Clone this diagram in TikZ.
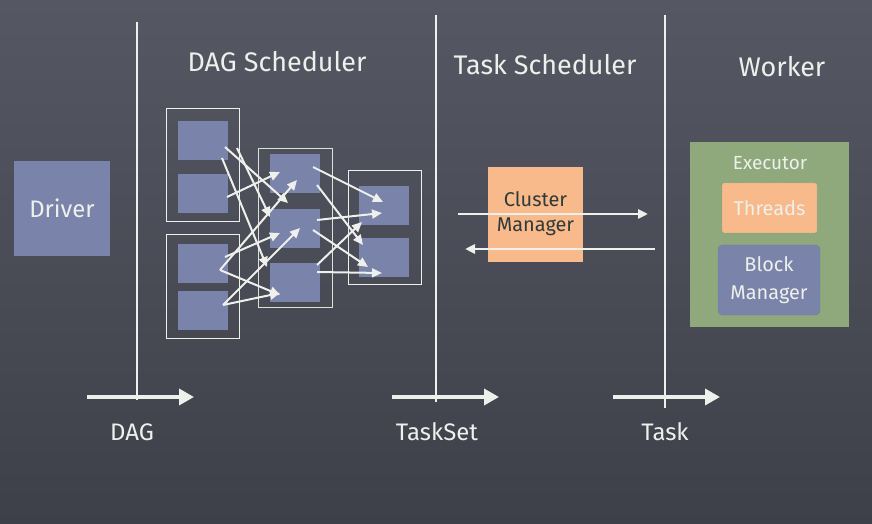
\documentclass[tikz,border=0pt]{standalone}
\usepackage{fontspec}
\setmainfont{Fira Sans}
\usetikzlibrary{arrows.meta,calc}
\definecolor{boardtop}{HTML}{555863}
\definecolor{boardbot}{HTML}{3E4049}
\definecolor{chalk}{HTML}{EEF0EC}
\definecolor{slate}{HTML}{7A83A9}
\definecolor{peach}{HTML}{F8BA8A}
\definecolor{moss}{HTML}{8FA97C}
\definecolor{ink}{HTML}{2E3A3A}
\newcommand{\fsz}[1]{\fontsize{#1}{#1}\selectfont}
\begin{document}
\begin{tikzpicture}[x=1bp, y=-1bp,
	block/.style={fill=slate, minimum width=50bp, minimum height=39bp, inner sep=0pt},
	stage/.style={draw=chalk, line width=1bp, inner sep=0pt},
	title/.style={text=chalk, font=\fsz{27}},
	label/.style={text=chalk, font=\fsz{24}},
	flow/.style={draw=chalk, line width=2bp, -{Triangle[length=10bp,width=9bp]}},
	axis/.style={draw=chalk, line width=3.5bp, -{Triangle[length=15bp,width=16bp]}},
	column/.style={draw=chalk, line width=1.5bp}]
	% Board
	\shade[top color=boardtop, bottom color=boardbot] (0,0) rectangle (872,524);
	\useasboundingbox (0,0) rectangle (872,524);
	% Columns
	\draw[column] (137,22) -- (137,400);
	\draw[column] (436,15) -- (436,402);
	\draw[column] (665,15) -- (665,408);
	% Titles
	\node[title] (DAG title) at (277,62) {DAG Scheduler};
	\node[title] (Task title) at (545,65) {Task Scheduler};
	\node[title] (Worker title) at (782,67) {Worker};
	% Driver
	\node[fill=slate, minimum width=96bp, minimum height=95bp, text=chalk, font=\fsz{24}] (Driver) at (62,208.5) {Driver};
	% Stages
	\node[stage, minimum width=73bp, minimum height=113bp] (Stage A) at (202.5,165.5) {};
	\node[stage, minimum width=73bp, minimum height=103bp] (Stage B) at (202.5,286.5) {};
	\node[stage, draw=chalk!80!moss, minimum width=74bp, minimum height=158bp] (Stage M) at (295,228) {};
	\node[stage, minimum width=73bp, minimum height=113bp] (Stage R) at (384.5,227.5) {};
	\node[block] (a1) at (203,140.5) {};
	\node[block] (a2) at (203,193.5) {};
	\node[block] (b1) at (203,263.5) {};
	\node[block] (b2) at (203,310.5) {};
	\node[block] (m1) at (295,173.5) {};
	\node[block] (m2) at (295,228.5) {};
	\node[block] (m3) at (295,282.5) {};
	\node[block] (r1) at (384,205.5) {};
	\node[block] (r2) at (384,257.5) {};
	% Arrows between stages
	\draw[flow] ($(a1)+(22,6.5)$) -- ($(m2)+(-7,-25.5)$);
	\draw[flow] ($(a1)+(34,7.5)$) -- ($(m2)+(-25,-11.5)$);
	\draw[flow] ($(a1)+(19,17.5)$) -- ($(m3)+(-28,-15.5)$);
	\draw[flow] ($(a2)+(24,3.5)$) -- ($(m1)+(-15,-1.5)$);
	\draw[flow] ($(b1)+(17,6.5)$) -- ($(m1)+(2,6.5)$);
	\draw[flow] ($(b1)+(22,-6.5)$) -- ($(m2)+(-15,4.5)$);
	\draw[flow] ($(b1)+(17,6.5)$) -- ($(m3)+(-15,12.5)$);
	\draw[flow] ($(b2)+(20,-5.5)$) -- ($(m2)+(5,-0.5)$);
	\draw[flow] ($(b2)+(20,-5.5)$) -- ($(m3)+(-15,10.5)$);
	\draw[flow] ($(m1)+(18,-6.5)$) -- ($(r1)+(-1,-3.5)$);
	\draw[flow] ($(m1)+(22,11.5)$) -- ($(r2)+(-21,-12.5)$);
	\draw[flow] ($(m2)+(22,-8.5)$) -- ($(r1)+(-2,7.5)$);
	\draw[flow] ($(m2)+(18,1.5)$) -- ($(r2)+(-16,9.5)$);
	\draw[flow] ($(m3)+(22,-17.5)$) -- ($(r1)+(-22,16.5)$);
	\draw[flow] ($(m3)+(22,-10.5)$) -- ($(r2)+(-2,15.5)$);
	% Cluster manager
	\node[fill=peach, minimum width=95bp, minimum height=95bp, text=ink, font=\fsz{20}, align=center] (Cluster) at (535.5,214.5) {\strut Cluster\\[5bp]\strut Manager};
	\coordinate (send from) at (458,214);
	\coordinate (send to) at (648,214);
	\coordinate (reply from) at (655,249);
	\coordinate (reply to) at (465,249);
	\draw[flow, line width=2.6bp] (send from) -- (send to);
	\draw[flow, line width=2.6bp] (reply from) -- (reply to);
	% Worker
	\node[fill=moss, minimum width=159bp, minimum height=185bp] (Worker) at (769.5,234.5) {};
	\node[text=chalk, font=\fsz{19}] (Executor) at (770,163) {Executor};
	\node[fill=peach, draw=ink!70, densely dotted, rounded corners=2bp, minimum width=95bp, minimum height=50bp, text=chalk, font=\fsz{20}] (Threads) at (769.5,208) {Threads};
	\node[fill=slate, draw=ink!70, densely dotted, rounded corners=4bp, minimum width=102bp, minimum height=70bp, text=chalk, font=\fsz{20}, align=center] (Block) at (769,280) {Block\\[8bp]Manager};
	% Timeline
	\coordinate (dag start) at (87,397);
	\coordinate (dag end) at (194,397);
	\coordinate (set start) at (392,397);
	\coordinate (set end) at (499,397);
	\coordinate (task start) at (613,397);
	\coordinate (task end) at (720,397);
	\draw[axis] (dag start) -- (dag end);
	\draw[axis] (set start) -- (set end);
	\draw[axis] (task start) -- (task end);
	\node[label] (DAG) at (132,432) {DAG};
	\node[label] (TaskSet) at (437,432) {TaskSet};
	\node[label] (Task) at (665,432) {Task};
\end{tikzpicture}
\end{document}
